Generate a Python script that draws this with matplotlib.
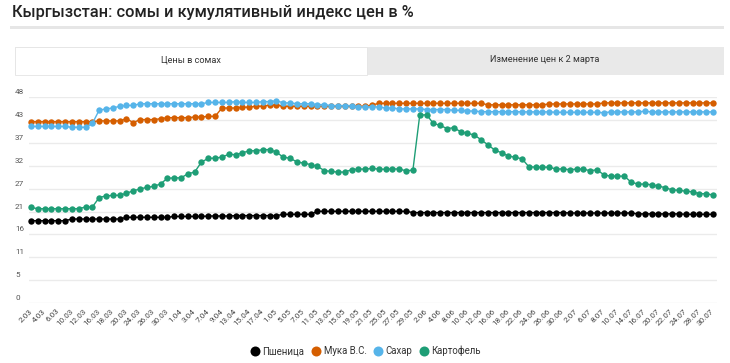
import matplotlib
matplotlib.use("Agg")
import matplotlib.pyplot as plt
from matplotlib.patches import Rectangle, FancyBboxPatch
from matplotlib.lines import Line2D
import matplotlib.transforms as mtransforms

plt.rcParams['font.family'] = ['Roboto', 'DejaVu Sans']

dates = ["2.03", "3.03", "4.03", "5.03", "6.03", "9.03", "10.03", "11.03", "12.03", "13.03",
         "16.03", "17.03", "18.03", "19.03", "20.03", "23.03", "24.03", "25.03", "26.03", "27.03",
         "30.03", "31.03", "1.04", "2.04", "3.04", "6.04", "7.04", "8.04", "9.04", "10.04",
         "13.04", "14.04", "15.04", "16.04", "17.04", "30.04", "1.05", "4.05", "5.05", "6.05",
         "7.05", "8.05", "11.05", "12.05", "13.05", "14.05", "15.05", "18.05", "19.05", "20.05",
         "21.05", "22.05", "25.05", "26.05", "27.05", "28.05", "29.05", "1.06", "2.06", "3.06",
         "4.06", "5.06", "8.06", "9.06", "10.06", "11.06", "12.06", "15.06", "16.06", "17.06",
         "18.06", "19.06", "22.06", "23.06", "24.06", "25.06", "26.06", "29.06", "30.06", "1.07",
         "2.07", "3.07", "6.07", "7.07", "8.07", "9.07", "10.07", "13.07", "14.07", "15.07",
         "16.07", "17.07", "20.07", "21.07", "22.07", "23.07", "24.07", "27.07", "28.07", "29.07",
         "30.07"]

wheat = ([19.2] * 6 + [19.6] * 8 + [20.0] * 7 + [20.2] * 5 + [20.3] * 4 + [20.4] * 7 +
         [20.7] * 5 + [21.4] * 14 + [21.1] * 23 + [21.0] * 10 + [20.8] * 7 + [20.7] * 5)

flour = ([42.3] * 10 + [42.5] * 4 + [43.0, 42.1] + [42.8] * 3 + [43.0] + [43.25] * 4 +
         [43.4] * 2 + [43.55] * 2 + [45.5] * 3 + [45.7] * 2 + [45.9] * 2 + [46.2] * 2 +
         [45.9] * 13 + [46.2] + [46.6] * 16 + [46.25] * 9 + [46.45] * 8 + [46.7] * 17)

sugar = ([41.2] * 6 + [41.0] * 3 + [41.9, 45.0, 45.3, 45.5, 45.9, 46.1, 46.1] + [46.5] * 10 +
         [46.8] * 4 + [47.0] + [46.8] * 3 + [47.0] * 2 + [47.2] + [46.7] * 2 + [46.5] * 3 +
         [46.3] * 2 + [46.05] * 4 + [45.75] * 4 + [45.5] * 2 + [45.3] * 4 + [45.15] * 4 +
         [44.96] * 2 + [44.8] * 2 + [44.65] * 6 + [44.6] * 5 + [44.5] * 7 + [44.4] +
         [44.6] * 5 + [44.75] + [44.6] * 10)

potato = [22.3, 22.0, 22.0, 22.0, 22.0, 22.0, 22.0, 22.0, 22.4, 22.4,
          24.6, 25.0, 25.1, 25.15, 25.6, 26.2, 26.6, 27.0, 27.2, 27.8,
          29.1, 29.2, 29.2, 30.15, 30.55, 32.9, 33.75, 33.8, 34.05, 34.7,
          34.6, 35.05, 35.5, 35.55, 35.77, 35.8, 35.2, 34.0, 33.8, 32.9,
          32.65, 32.3, 31.9, 30.9, 30.7, 30.55, 30.55, 31.1, 31.25, 31.25,
          31.4, 31.25, 31.2, 31.3, 31.25, 30.85, 31.0, 43.8, 43.95, 41.9,
          41.45, 40.7, 40.9, 39.96, 39.6, 39.2, 38.1, 36.9, 35.7, 35.05,
          34.3, 34.0, 33.65, 31.8, 31.7, 31.7, 31.7, 31.25, 31.3, 31.1,
          31.25, 31.25, 30.85, 31.1, 29.9, 29.6, 29.6, 29.6, 28.2, 27.75,
          27.75, 27.6, 27.3, 26.9, 26.4, 26.3, 26.1, 25.95, 25.5, 25.5,
          25.2]

series_names = ["Пшеница", "Мука В.С.", "Сахар", "Картофель"]
series_colors = ["#000000", "#D55E00", "#56B4E9", "#1E9E76"]
series_values = [wheat, flour, sugar, potato]

y_ticks = [0, 48 / 9, 2 * 48 / 9, 3 * 48 / 9, 4 * 48 / 9, 5 * 48 / 9, 6 * 48 / 9, 7 * 48 / 9, 8 * 48 / 9, 48]
y_labels = ["0", "5", "11", "16", "21", "27", "32", "37", "43", "48"]

title = "Кыргызстан: сомы и кумулятивный индекс цен в %"
tab1 = "Цены в сомах"
tab2 = "Изменение цен к 2 марта"

W, H = 730, 363
fig = plt.figure(figsize=(W / 100, H / 100), dpi=100)

def fx(px):
    return px / W

def fy(py):
    return 1 - py / H

# title and separator
fig.text(fx(12), fy(12), title, fontsize=11.8, fontweight='medium', color='#222222',
         ha='left', va='center')
fig.add_artist(Rectangle((fx(10), fy(28.5)), fx(714), 3 / H, transform=fig.transFigure,
                         facecolor='#e6e6e6', edgecolor='none'))

# tabs
fig.add_artist(Rectangle((fx(15), fy(75)), fx(709), 28 / H, transform=fig.transFigure,
                         facecolor='#e9e9e9', edgecolor='none'))
fig.add_artist(Rectangle((fx(15), fy(75)), fx(352), 28 / H, transform=fig.transFigure,
                         facecolor='#ffffff', edgecolor='#e4e4e4', linewidth=0.6))
fig.text(fx(191), fy(60), tab1, fontsize=6.6, color='#333333', ha='center', va='center')
fig.text(fx(545), fy(60), tab2, fontsize=6.6, color='#333333', ha='center', va='center')

# axes
left, right = 29, 717
top, bottom = 97.3, 303
ax = fig.add_axes([fx(left), fy(bottom), fx(right - left), (bottom - top) / H])
ax.set_xlim(-0.29, 100.59)
ax.set_ylim(0, 48)
for s in ax.spines.values():
    s.set_visible(False)
ax.set_yticks(y_ticks)
ax.set_yticklabels([])
ax.tick_params(axis='y', length=0)
ax.grid(axis='y', color='#ebebeb', linewidth=1)
ax.set_axisbelow(True)

trans = mtransforms.blended_transform_factory(fig.transFigure, ax.transData)
trans = trans + mtransforms.ScaledTranslation(0, 2 / 100, fig.dpi_scale_trans)
for v, lab in zip(y_ticks, y_labels):
    fig.text(fx(15), v, lab, transform=trans, fontsize=5.9, color='#555555',
             ha='left', va='bottom')

x = list(range(len(dates)))
ax.set_xticks(x[::2])
ax.set_xticklabels(dates[::2], rotation=45, ha='right', va='center',
                   rotation_mode='anchor', fontsize=5.9, color='#444444')
ax.tick_params(axis='x', length=0, pad=5)

for name, col, vals in zip(series_names, series_colors, series_values):
    ax.plot(x, vals, color=col, linewidth=1.0, marker='o', markersize=4.6,
            markeredgewidth=0, label=name, clip_on=False)

handles = [Line2D([], [], linestyle='none', marker='o', markersize=7.2, color=c,
                  markeredgewidth=0) for c in series_colors]
fig.legend(handles, series_names, loc='center', bbox_to_anchor=(fx(366), fy(351)),
           ncol=4, frameon=False, fontsize=6.9, handlelength=0.8, handletextpad=0.4,
           columnspacing=0.8, labelcolor='#333333')

fig.savefig("out.png", dpi=100)
